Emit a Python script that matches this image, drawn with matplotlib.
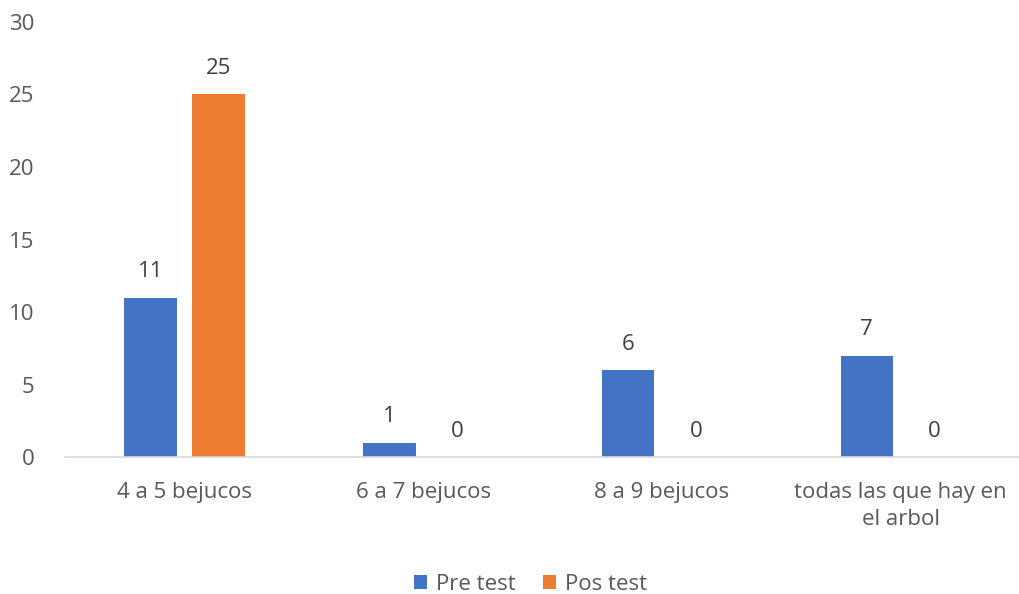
import matplotlib.pyplot as plt
import numpy as np

categories = ["4 a 5 bejucos", "6 a 7 bejucos", "8 a 9 bejucos", "todas las que hay en\nel arbol"]
pre_test = [11, 1, 6, 7]
pos_test = [25, 0, 0, 0]
y_ticks = [0, 5, 10, 15, 20, 25, 30]

plt.rcParams['font.family'] = ['Open Sans', 'DejaVu Sans']
gray = '#595959'
fs = 16

fig = plt.figure(figsize=(10.2, 5.94), dpi=100)
ax = fig.add_axes([0.064, 0.2306, 0.936, 0.7324])

x = np.arange(len(categories))
w = 0.22
off = 0.142
b1 = ax.bar(x - off, pre_test, w, color='#4472C4', label='Pre test')
b2 = ax.bar(x + off, pos_test, w, color='#ED7D31', label='Pos test')

for bars in (b1, b2):
    ax.bar_label(bars, padding=11, fontsize=fs, color='#404040')

ax.set_xlim(-0.5, 3.5)
ax.set_ylim(0, 30)
ax.set_yticks(y_ticks)
ax.set_xticks(x)
ax.set_xticklabels(categories, linespacing=1.4)
ax.tick_params(axis='y', length=0, labelsize=fs, labelcolor=gray, pad=22)
ax.tick_params(axis='x', length=0, labelsize=fs, labelcolor=gray, pad=18)

for s in ['top', 'right', 'left']:
    ax.spines[s].set_visible(False)
ax.spines['bottom'].set_color('#D9D9D9')
ax.spines['bottom'].set_linewidth(1.2)

fig.legend(loc='lower center', bbox_to_anchor=(0.52, -0.035), ncol=2, frameon=False,
           fontsize=fs, labelcolor=gray, handlelength=0.6, handleheight=0.6,
           handletextpad=0.4, columnspacing=1.2)

fig.savefig('out.png', dpi=100)
